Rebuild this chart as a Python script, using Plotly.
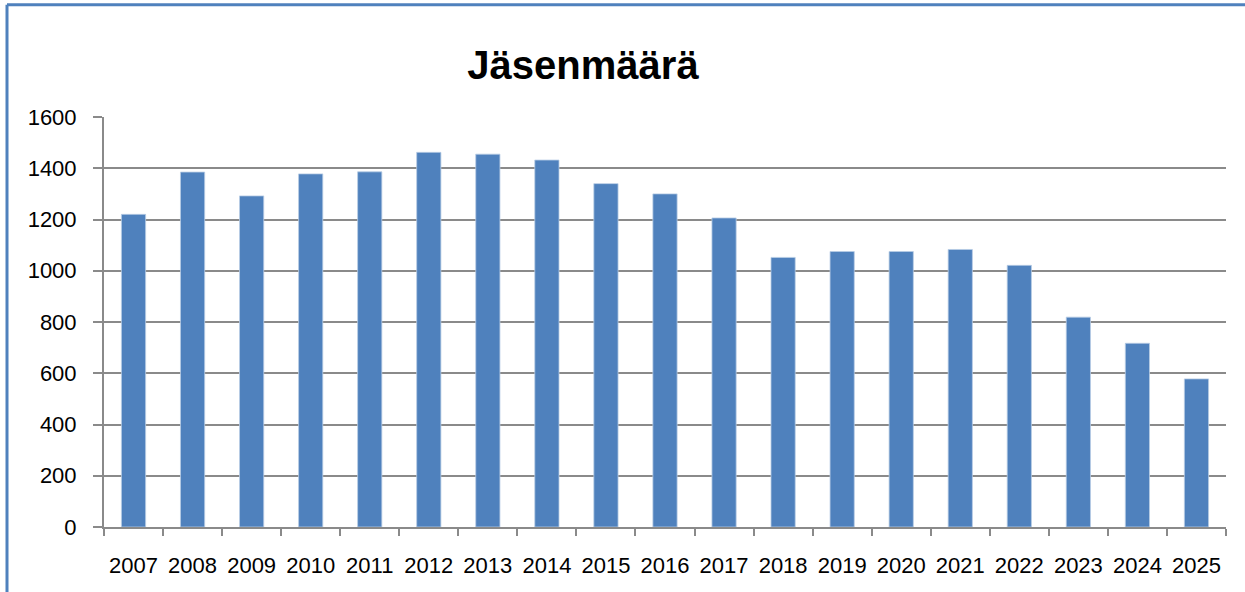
import plotly.graph_objects as go

years = [str(y) for y in range(2007, 2026)]
members = [1220, 1385, 1292, 1378, 1386, 1462, 1455, 1432, 1340, 1300,
           1206, 1052, 1075, 1075, 1083, 1021, 819, 717, 578]
title_text = "Jäsenmäärä"

W, H = 1245, 592
ml, mr, mt, mb = 104, 19, 116.5, 64.5
pw = W - ml - mr
ph = H - mt - mb

def px_x(p):
    return (p - ml) / pw

def px_y(p):
    return (H - mb - p) / ph

fig = go.Figure(go.Bar(
    x=years, y=members,
    marker=dict(color="#4F81BD", line=dict(color="#B9CDE5", width=0.8)),
))

border = "#4F81BD"
fig.update_layout(
    width=W, height=H,
    margin=dict(l=ml, r=mr, t=mt, b=mb),
    paper_bgcolor="white", plot_bgcolor="white",
    bargap=0.59,
    showlegend=False,
    font=dict(family="Liberation Sans, Arial, sans-serif", color="black"),
    title=dict(text="<b>" + title_text + "</b>", x=583 / W, xanchor="center",
               xref="container", y=1 - 65 / H, yref="container", yanchor="middle",
               font=dict(size=40, color="black")),
    xaxis=dict(type="category", tickson="boundaries", ticks="outside", ticklen=7,
               tickwidth=2, tickcolor="#8a8a8a", showline=True, linecolor="#8a8a8a",
               linewidth=2, tickfont=dict(size=22), ticklabelstandoff=18,
               showgrid=False),
    yaxis=dict(range=[0, 1600], dtick=200, ticks="outside", ticklen=9, tickwidth=2,
               tickcolor="#8a8a8a", showline=True, linecolor="#8a8a8a", linewidth=2,
               gridcolor="#8a8a8a", gridwidth=2, tickfont=dict(size=22),
               ticklabelstandoff=12, zeroline=False),
    shapes=[
        dict(type="line", xref="paper", yref="paper", x0=px_x(7), x1=px_x(7),
             y0=px_y(4), y1=px_y(700), line=dict(color=border, width=3)),
        dict(type="line", xref="paper", yref="paper", x0=px_x(7), x1=px_x(1400),
             y0=px_y(4), y1=px_y(4), line=dict(color=border, width=3)),
    ],
)

fig.write_html("out.html", config={"displayModeBar": False},
               post_script="document.body.style.margin='0';")
